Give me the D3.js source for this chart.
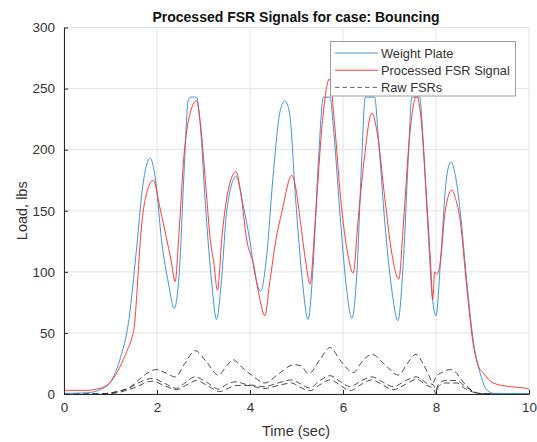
<!DOCTYPE html>
<html>
<head>
<meta charset="utf-8">
<script src="https://cdn.jsdelivr.net/npm/d3@7"></script>
<style>
  html, body { margin: 0; padding: 0; background: #fff; }
  svg { display: block; font-family: "Liberation Sans", Arial, Helvetica, sans-serif; }
</style>
</head>
<body>
<svg id="chart" width="537" height="442"></svg>
<script>
// Weight plate load (lbs) against time (sec)
const plateTime = [0, 0.5, 0.8, 1.0, 1.2, 1.4, 1.55, 1.7, 1.85, 1.97, 2.1, 2.25, 2.37, 2.48, 2.58, 2.67, 2.72, 2.85, 2.92, 3.05, 3.18, 3.28, 3.38, 3.5, 3.7, 3.85, 4.0, 4.12, 4.23, 4.35, 4.5, 4.65, 4.75, 4.85, 4.98, 5.12, 5.25, 5.35, 5.47, 5.58, 5.72, 5.8, 5.95, 6.08, 6.19, 6.3, 6.4, 6.48, 6.68, 6.76, 6.9, 7.05, 7.18, 7.3, 7.4, 7.48, 7.65, 7.72, 7.82, 7.92, 8.0, 8.1, 8.22, 8.32, 8.42, 8.52, 8.66, 8.8, 8.95, 9.1, 9.25, 10];
const plateLoad = [0.5, 1, 4, 10, 28, 62, 115, 172, 193, 175, 125, 90, 70, 100, 180, 240, 243, 243, 225, 150, 90, 61, 90, 150, 178, 155, 125, 95, 84, 110, 180, 232, 240, 230, 160, 95, 61, 100, 190, 243, 243, 215, 140, 85, 62, 100, 190, 243, 243, 210, 140, 85, 60, 110, 190, 243, 243, 210, 140, 80, 64, 110, 175, 190, 178, 150, 93, 44, 17, 3, 0.5, 0.3];

// Processed FSR signal
const procTime = [0, 0.5, 0.7, 0.92, 1.1, 1.2, 1.35, 1.45, 1.52, 1.58, 1.65, 1.75, 1.92, 2.06, 2.2, 2.3, 2.39, 2.47, 2.58, 2.7, 2.85, 2.95, 3.05, 3.15, 3.22, 3.3, 3.4, 3.55, 3.7, 3.8, 3.93, 4.07, 4.2, 4.32, 4.42, 4.57, 4.68, 4.9, 5.0, 5.08, 5.2, 5.29, 5.4, 5.55, 5.71, 5.82, 5.95, 6.1, 6.22, 6.32, 6.45, 6.62, 6.75, 6.9, 7.05, 7.2, 7.3, 7.43, 7.58, 7.68, 7.78, 7.88, 7.93, 7.97, 8.02, 8.08, 8.2, 8.34, 8.42, 8.52, 8.66, 8.8, 8.9, 9.02, 9.23, 9.59, 9.95, 10];
const procLoad = [3, 3, 4, 7, 15, 22, 35, 45, 58, 90, 130, 160, 175, 153, 128, 110, 92, 130, 195, 228, 240, 215, 170, 125, 108, 85, 130, 170, 182, 165, 126, 107, 80, 64, 90, 129, 148, 179, 165, 142, 108, 90, 140, 220, 258, 220, 160, 115, 99, 140, 190, 230, 210, 160, 115, 94, 140, 210, 244, 225, 170, 110, 77, 100, 98, 105, 150, 167, 160, 142, 88, 41, 24, 17, 9, 6, 4.6, 4];

// Raw FSR channels
const rawATime = [0, 0.6, 0.9, 1.2, 1.4, 1.56, 1.75, 1.98, 2.2, 2.39, 2.6, 2.82, 3.05, 3.32, 3.5, 3.64, 3.85, 4.05, 4.32, 4.6, 4.95, 5.1, 5.26, 5.5, 5.72, 5.95, 6.22, 6.42, 6.62, 6.9, 7.19, 7.4, 7.57, 7.72, 7.85, 7.93, 8.0, 8.15, 8.3, 8.42, 8.55, 8.7, 8.87, 9.0, 10];
const rawALoad = [0, 0, 0.5, 2.5, 5, 10, 16, 20, 17, 14, 25, 35.5, 27, 15.5, 23, 28, 21, 15, 9, 16, 24, 23, 16.5, 28, 38, 27, 17.5, 27, 32.5, 24, 15.5, 26, 32.5, 25, 15, 9, 14, 18, 20, 18, 11.5, 5, 1, 0.3, 0];

const rawBTime = [0, 0.8, 1.1, 1.4, 1.65, 1.9, 2.15, 2.42, 2.6, 2.82, 3.05, 3.33, 3.5, 3.7, 3.9, 4.1, 4.3, 4.6, 4.9, 5.05, 5.29, 5.5, 5.72, 5.95, 6.15, 6.4, 6.62, 6.85, 7.08, 7.35, 7.58, 7.8, 7.94, 8.0, 8.05, 8.2, 8.45, 8.6, 8.87, 9.0, 10];
const rawBLoad = [0, 0, 1.5, 5, 10, 12.8, 9, 4.6, 9, 14, 10, 4, 8, 10, 8, 7, 6, 9, 11.5, 9, 5, 11, 15, 10, 6, 11, 14, 10, 6, 11, 14, 9, 7.6, 3, 8, 11, 11, 7, 1, 0.2, 0];

const rawCTime = [0, 0.9, 1.2, 1.5, 1.9, 2.15, 2.42, 2.62, 2.85, 3.08, 3.35, 3.55, 3.7, 3.95, 4.3, 4.6, 4.9, 5.05, 5.29, 5.5, 5.72, 5.95, 6.15, 6.4, 6.62, 6.85, 7.08, 7.35, 7.58, 7.8, 7.94, 8.0, 8.05, 8.2, 8.45, 8.6, 8.85, 9.0, 10];
const rawCLoad = [0, 0, 1.5, 5, 10.5, 7, 3.5, 7, 11, 7, 2, 5, 7, 7, 4.5, 7, 9, 6, 2.7, 7.5, 11.5, 7, 2.7, 8, 11.5, 7.5, 3.5, 8, 12, 7, 4.6, 0, 6, 9, 9, 5, 1, 0.2, 0];

const xTicks = [0, 2, 4, 6, 8, 10];
const yTicks = [0, 50, 100, 150, 200, 250, 300];
const legendLabels = ["Weight Plate", "Processed FSR Signal", "Raw FSRs"];

const W = 537, H = 442;
const m = { left: 64, right: 8, top: 27.5, bottom: 48 };
const svg = d3.select("#chart");

const x = d3.scaleLinear().domain([0, 10]).range([m.left, W - m.right]);
const y = d3.scaleLinear().domain([0, 300]).range([H - m.bottom, m.top]);

const blue = "#3f95d8", red = "#ff3a3a", dark = "#2b2b2b";

// Grid
const grid = svg.append("g");
grid.selectAll(".gx").data(xTicks).join("line")
  .attr("x1", d => x(d)).attr("x2", d => x(d))
  .attr("y1", y(0)).attr("y2", y(300))
  .attr("stroke", "#e3e3e3").attr("stroke-width", 1);
grid.selectAll(".gy").data(yTicks).join("line")
  .attr("x1", x(0)).attr("x2", x(10))
  .attr("y1", d => y(d)).attr("y2", d => y(d))
  .attr("stroke", "#e3e3e3").attr("stroke-width", 1);

// Series
const clip = svg.append("clipPath").attr("id", "plotclip").append("rect")
  .attr("x", x(0)).attr("y", y(300)).attr("width", x(10) - x(0)).attr("height", y(0) - y(300));
const plot = svg.append("g").attr("clip-path", "url(#plotclip)");

function series(ts, vs) { return ts.map((t, i) => [t, vs[i]]); }
const line = d3.line().x(d => x(d[0])).y(d => y(d[1])).curve(d3.curveMonotoneX);

[[rawATime, rawALoad], [rawBTime, rawBLoad], [rawCTime, rawCLoad]].forEach(([ts, vs]) => {
  plot.append("path").attr("d", line(series(ts, vs)))
    .attr("fill", "none").attr("stroke", dark).attr("stroke-opacity", 0.85)
    .attr("stroke-width", 1).attr("stroke-dasharray", "6,3.5");
});
plot.append("path").attr("d", line(series(plateTime, plateLoad)))
  .attr("fill", "none").attr("stroke", blue).attr("stroke-width", 1);
plot.append("path").attr("d", line(series(procTime, procLoad)))
  .attr("fill", "none").attr("stroke", red).attr("stroke-width", 1);

// Axes
const axisColor = "#262626";
const xAxis = svg.append("g").attr("transform", `translate(0,${y(0)})`)
  .call(d3.axisBottom(x).tickValues(xTicks).tickSizeInner(-4).tickSizeOuter(0).tickPadding(8));
const yAxis = svg.append("g").attr("transform", `translate(${x(0)},0)`)
  .call(d3.axisLeft(y).tickValues(yTicks).tickSizeInner(-4).tickSizeOuter(0).tickPadding(9));
[xAxis, yAxis].forEach(a => {
  a.select(".domain").attr("stroke", axisColor);
  a.selectAll(".tick line").attr("stroke", axisColor);
  a.selectAll(".tick text").attr("fill", "#333").attr("font-size", 13.5)
    .attr("font-family", "Liberation Sans, Arial, sans-serif");
});

// Titles
svg.append("text").attr("x", 296).attr("y", 22).attr("text-anchor", "middle")
  .attr("font-size", 14).attr("font-weight", "bold").attr("fill", "#111")
  .text("Processed FSR Signals for case: Bouncing");
svg.append("text").attr("x", 296).attr("y", 436).attr("text-anchor", "middle")
  .attr("font-size", 14.5).attr("fill", "#333").text("Time (sec)");
svg.append("text").attr("transform", `translate(27,${(y(0) + y(300)) / 2}) rotate(-90)`)
  .attr("text-anchor", "middle").attr("font-size", 14.5).attr("fill", "#333").text("Load, lbs");

// Legend
const lg = svg.append("g");
lg.append("rect").attr("x", 330.5).attr("y", 41.5).attr("width", 185).attr("height", 54.5)
  .attr("fill", "#fff").attr("stroke", "#888").attr("stroke-width", 0.8);
const styles = [
  { stroke: blue, dash: null },
  { stroke: red, dash: null },
  { stroke: "#666", dash: "4.5,3" }
];
legendLabels.forEach((lab, i) => {
  const cy = 53 + i * 17.2;
  lg.append("line").attr("x1", 335).attr("x2", 378).attr("y1", cy).attr("y2", cy)
    .attr("stroke", styles[i].stroke).attr("stroke-width", 1)
    .attr("stroke-dasharray", styles[i].dash);
  lg.append("text").attr("x", 381).attr("y", cy + 4.5).attr("font-size", 12.8)
    .attr("fill", "#333").text(lab);
});
</script>
</body>
</html>
